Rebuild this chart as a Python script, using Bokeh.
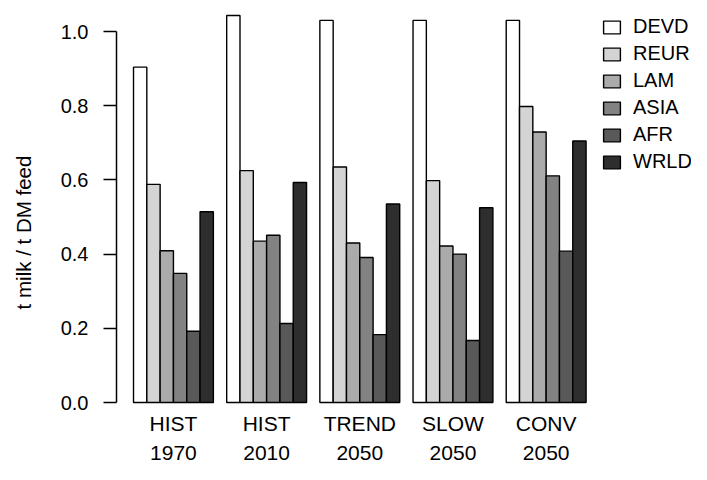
from bokeh.plotting import figure
from bokeh.models import (LinearAxis, FixedTicker, PrintfTickFormatter, Range1d, Legend,
                          LabelSet, ColumnDataSource)
from bokeh.core.properties import value
from bokeh.embed import file_html
from bokeh.resources import INLINE

scenarios = ["HIST", "HIST", "TREND", "SLOW", "CONV"]
years = ["1970", "2010", "2050", "2050", "2050"]
regions = ["DEVD", "REUR", "LAM", "ASIA", "AFR", "WRLD"]
DEVD = [0.904, 1.043, 1.030, 1.030, 1.030]
REUR = [0.588, 0.625, 0.635, 0.598, 0.798]
LAM = [0.409, 0.435, 0.430, 0.422, 0.729]
ASIA = [0.348, 0.451, 0.391, 0.400, 0.611]
AFR = [0.192, 0.213, 0.183, 0.167, 0.408]
WRLD = [0.514, 0.593, 0.535, 0.525, 0.705]
series_values = [DEVD, REUR, LAM, ASIA, AFR, WRLD]
colors = ["#FFFFFF", "#D4D4D4", "#ABABAB", "#828282", "#595959", "#2E2E2E"]
y_ticks = [0.0, 0.2, 0.4, 0.6, 0.8, 1.0]
y_title = "t milk / t DM feed"

FONT = "Liberation Sans"
n_reg = len(regions)
step = n_reg + 1

p = figure(width=691, height=464, output_backend="svg", toolbar_location=None,
           x_axis_type=None, y_axis_type=None,
           x_range=Range1d(-0.278, 42.92), y_range=Range1d(-0.1671, 1.0836),
           min_border_left=116, min_border_right=0, min_border_top=0,
           min_border_bottom=0)
p.outline_line_color = None
p.background_fill_color = "white"

items = []
for j, (name, vals) in enumerate(zip(regions, series_values)):
    xs = [1.5 + step * g + j for g in range(len(vals))]
    r = p.vbar(x=xs, top=vals, bottom=0, width=1, fill_color=colors[j],
               line_color="black", line_width=1.4)
    items.append((name, [r]))

# y axis (line, ticks and tick labels)
yax = LinearAxis(ticker=FixedTicker(ticks=y_ticks),
                 formatter=PrintfTickFormatter(format="%.1f"))
yax.bounds = (0, 1.0)
yax.axis_line_width = 1.5
yax.major_tick_line_width = 1.5
yax.major_tick_out = 13
yax.major_tick_in = 0
yax.minor_tick_out = 0
yax.minor_tick_in = 0
yax.major_label_standoff = 15
yax.major_label_text_font = FONT
yax.major_label_text_font_size = "20px"
yax.major_label_text_color = "black"
p.add_layout(yax, "left")

# y axis title (carried by a second, otherwise invisible axis)
tax = LinearAxis(ticker=FixedTicker(ticks=[]), axis_label=y_title)
tax.axis_line_color = None
tax.major_tick_line_color = None
tax.minor_tick_line_color = None
tax.major_tick_out = 0
tax.minor_tick_out = 0
tax.major_label_text_font_size = "0px"
tax.axis_label_text_font = FONT
tax.axis_label_text_font_size = "20.5px"
tax.axis_label_text_font_style = "normal"
tax.axis_label_text_color = "black"
tax.axis_label_standoff = 23
p.add_layout(tax, "left")

centers = [1 + step * g + n_reg / 2 for g in range(len(scenarios))]
src = ColumnDataSource(data=dict(x=centers, scen=scenarios, year=years))

# group labels: scenario names and years, below the bars
row1 = LabelSet(x="x", y=41, y_units="screen", text="scen", source=src,
                text_align="center", text_baseline="middle",
                text_font=value(FONT), text_font_size="21px", text_color="black")
row2 = LabelSet(x="x", y=12, y_units="screen", text="year", source=src,
                text_align="center", text_baseline="middle",
                text_font=value(FONT), text_font_size="21px", text_color="black")
p.add_layout(row1)
p.add_layout(row2)

legend = Legend(items=items, location=(485, 289), orientation="vertical")
legend.padding = 0
legend.margin = 0
legend.spacing = 0
legend.glyph_width = 21
legend.glyph_height = 16
legend.label_height = 27
legend.label_standoff = 11
legend.label_text_font = FONT
legend.label_text_font_size = "20px"
legend.label_text_color = "black"
legend.border_line_color = None
legend.background_fill_alpha = 0
p.add_layout(legend)

open("out.html", "w").write(file_html(p, INLINE))
